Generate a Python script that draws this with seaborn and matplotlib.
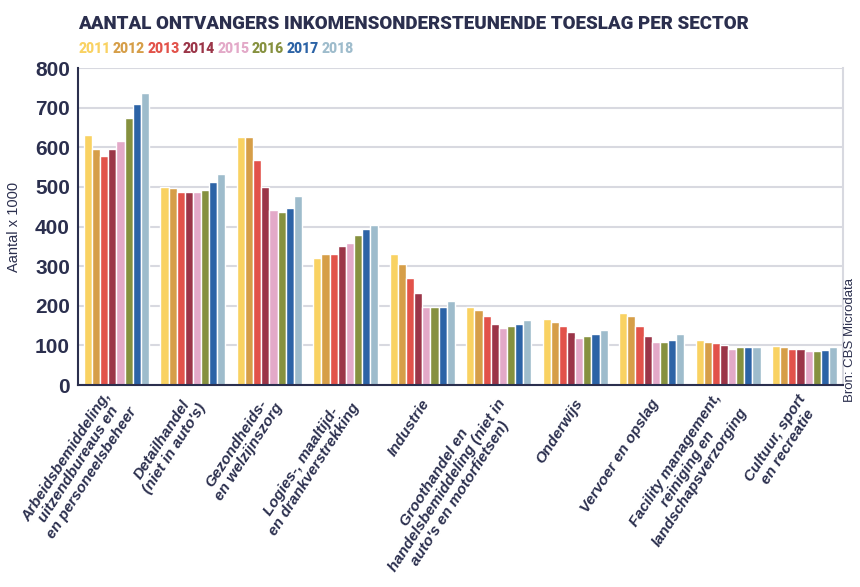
import pandas as pd
import matplotlib
matplotlib.use("Agg")
import matplotlib.pyplot as plt
import matplotlib.transforms as mtransforms
import seaborn as sns

# -----------------------------
# Data (aantal x 1000)
# -----------------------------
sectors = [
    "Arbeidsbemiddeling,\nuitzendbureaus en\nen personeelsbeheer",
    "Detailhandel\n(niet in auto's)",
    "Gezondheids-\nen welzijnszorg",
    "Logies-, maaltijd-\nen drankverstrekking",
    "Industrie",
    "Groothandel en\nhandelsbemiddeling (niet in\nauto's en motorfietsen)",
    "Onderwijs",
    "Vervoer en opslag",
    "Facility management,\nreiniging en\nlandschapsverzorging",
    "Cultuur, sport\nen recreatie",
]
years = ["2011", "2012", "2013", "2014", "2015", "2016", "2017", "2018"]

v2011 = [630, 500, 625, 320, 330, 198, 168, 183, 114, 99]
v2012 = [597, 497, 625, 330, 305, 189, 159, 174, 109, 95]
v2013 = [577, 488, 567, 330, 271, 174, 149, 150, 105, 90]
v2014 = [597, 488, 500, 350, 232, 154, 134, 125, 100, 90]
v2015 = [615, 488, 443, 358, 198, 144, 119, 109, 91, 85]
v2016 = [675, 492, 437, 380, 198, 149, 124, 109, 95, 85]
v2017 = [710, 512, 448, 393, 198, 154, 130, 114, 95, 89]
v2018 = [738, 532, 478, 403, 213, 164, 139, 130, 95, 95]

colors = ["#F9D262", "#D69E48", "#E2524A", "#9B3548",
          "#E3A9C8", "#86913F", "#2C63A6", "#9EBCCC"]

navy = "#2B2F4E"

# -----------------------------
# Long format
# -----------------------------
series = [v2011, v2012, v2013, v2014, v2015, v2016, v2017, v2018]
rows = []
for year, vals in zip(years, series):
    for sector, v in zip(sectors, vals):
        rows.append({"Sector": sector, "Jaar": year, "Aantal": v})
df = pd.DataFrame(rows)

# -----------------------------
# Plot
# -----------------------------
sns.set_style("white")
plt.rcParams["font.family"] = ["Liberation Sans", "DejaVu Sans"]

fig = plt.figure(figsize=(8.6, 5.87), dpi=100)
ax = fig.add_axes([0.091, 0.344, 0.889, 0.540])

sns.barplot(
    data=df, x="Sector", y="Aantal", hue="Jaar",
    palette=colors, width=0.85, gap=0, saturation=1,
    legend=False, ax=ax
)

ax.set_ylim(0, 800)
ax.set_xlim(-0.5, len(sectors) - 0.5)
ax.set_yticks(range(0, 801, 100))
ax.yaxis.grid(True, color="#D8D9E0", linewidth=1.5)
ax.set_axisbelow(True)

ax.spines["top"].set_visible(False)
ax.spines["right"].set_color("#D8D9E0")
ax.spines["right"].set_linewidth(1.5)
ax.spines["left"].set_color(navy)
ax.spines["bottom"].set_color(navy)
ax.spines["left"].set_linewidth(1.5)
ax.spines["bottom"].set_linewidth(1.5)

ax.tick_params(axis="y", length=0, pad=6, labelsize=15, labelcolor=navy)
for lab in ax.get_yticklabels():
    lab.set_fontweight("bold")
ax.tick_params(axis="x", length=0, pad=11)

ax.set_xticks(range(len(sectors)))
ax.set_xticklabels(
    sectors, rotation=57, ha="right", va="center", rotation_mode="anchor",
    ma="center", fontsize=11, fontweight="bold", fontstyle="italic",
    color=navy, linespacing=1.1
)
shift = mtransforms.ScaledTranslation(4 / 100, 0, fig.dpi_scale_trans)
for lab in ax.get_xticklabels():
    lab.set_transform(lab.get_transform() + shift)

ax.set_xlabel("")
ax.set_ylabel("Aantal x 1000", fontsize=10.5, color=navy, labelpad=10)

# Title
title_font = ["Roboto", "DejaVu Sans"]
fig.text(0.091, 0.943, "AANTAL ONTVANGERS INKOMENSONDERSTEUNENDE TOESLAG PER SECTOR",
         fontsize=13.5, fontweight="heavy", color=navy, family=title_font,
         va="bottom")

# Colored year legend
x = 0.091
renderer = fig.canvas.get_renderer()
for year, c in zip(years, colors):
    t = fig.text(x, 0.905, year, fontsize=10, fontweight="heavy", color=c,
                 family=title_font, va="bottom")
    bb = t.get_window_extent(renderer=renderer)
    x += bb.width / fig.bbox.width + 0.003

# Source
fig.text(0.988, 0.42, "Bron: CBS Microdata", rotation=90, fontsize=9.5,
         color=navy, ha="center", va="center")

plt.savefig("out.png", dpi=100)
